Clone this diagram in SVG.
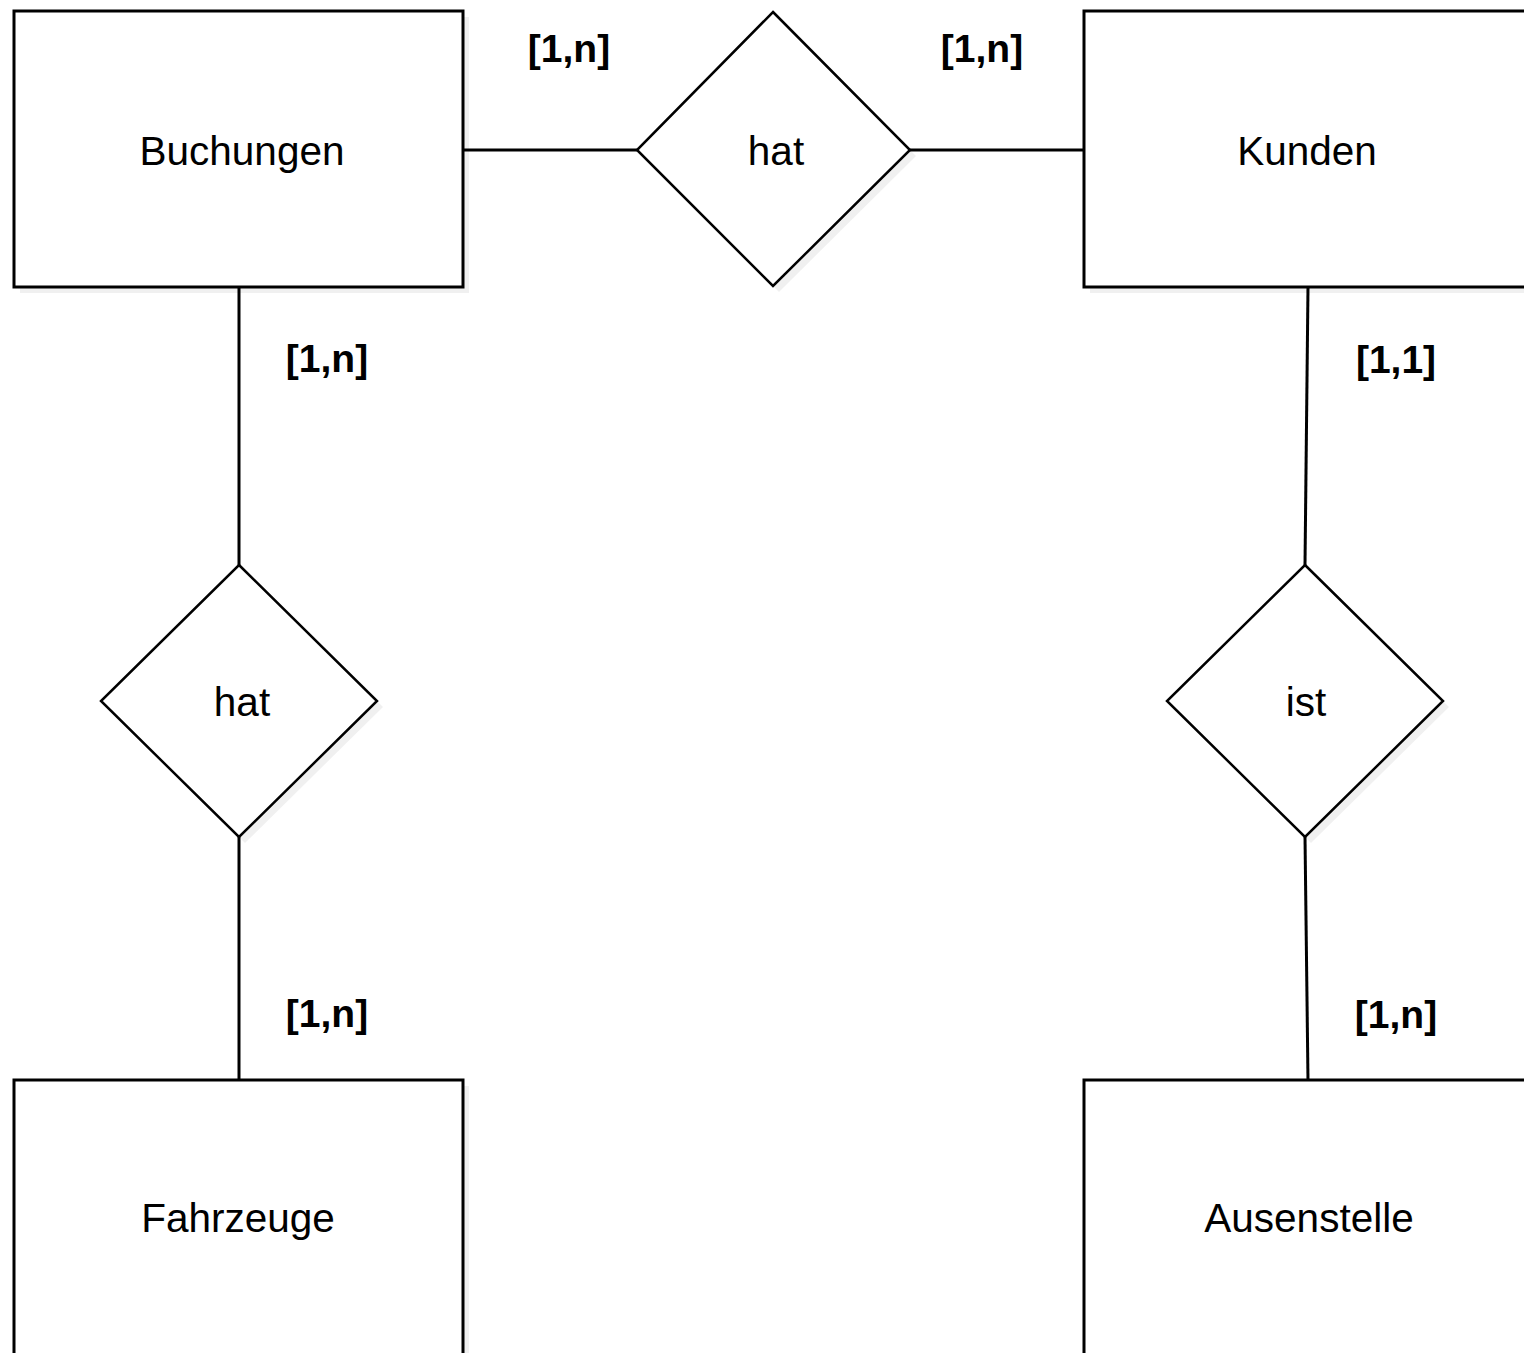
<svg xmlns="http://www.w3.org/2000/svg" width="1524" height="1353" viewBox="0 0 1524 1353">
<style>
.ent{fill:#fff;stroke:#000;stroke-width:3}
.rel{fill:#fff;stroke:#000;stroke-width:2.5}
.shadow{fill:#000;opacity:0.06}
.con{stroke:#000;stroke-width:3;fill:none}
.t{font-family:"Liberation Sans",Arial,sans-serif;font-size:40.5px;fill:#000;text-anchor:middle}
.c{font-family:"Liberation Sans",Arial,sans-serif;font-size:39px;font-weight:bold;fill:#000;text-anchor:middle}
</style>
<rect width="1524" height="1353" fill="#fff"/>
<g id="connectors">
<line class="con" x1="463" y1="150" x2="637" y2="150"/>
<line class="con" x1="910" y1="150" x2="1084" y2="150"/>
<line class="con" x1="239" y1="287" x2="239" y2="565"/>
<line class="con" x1="239" y1="837" x2="239" y2="1080"/>
<line class="con" x1="1308" y1="287" x2="1305" y2="565"/>
<line class="con" x1="1305" y1="837" x2="1308" y2="1080"/>
</g>
<g id="Buchungen">
<rect class="shadow" x="20" y="17" width="449" height="276"/>
<rect class="ent" x="14" y="11" width="449" height="276"/>
<text class="t" x="242" y="165">Buchungen</text>
</g>
<g id="Kunden">
<rect class="shadow" x="1090" y="17" width="460" height="276"/>
<rect class="ent" x="1084" y="11" width="460" height="276"/>
<text class="t" x="1307" y="165">Kunden</text>
</g>
<g id="Fahrzeuge">
<rect class="shadow" x="20" y="1086" width="449" height="300"/>
<rect class="ent" x="14" y="1080" width="449" height="300"/>
<text class="t" x="238" y="1232">Fahrzeuge</text>
</g>
<g id="Ausenstelle">
<rect class="shadow" x="1090" y="1086" width="460" height="300"/>
<rect class="ent" x="1084" y="1080" width="460" height="300"/>
<text class="t" x="1309" y="1232">Ausenstelle</text>
</g>
<g id="hat_top">
<polygon class="shadow" points="779,18 916,156 779,292 643,156"/>
<polygon class="rel" points="773,12 910,150 773,286 637,150"/>
<text class="t" x="776" y="165">hat</text>
</g>
<g id="hat_left">
<polygon class="shadow" points="245,571 383,707 245,843 107,707"/>
<polygon class="rel" points="239,565 377,701 239,837 101,701"/>
<text class="t" x="242" y="716">hat</text>
</g>
<g id="ist">
<polygon class="shadow" points="1311,571 1449,707 1311,843 1173,707"/>
<polygon class="rel" points="1305,565 1443,701 1305,837 1167,701"/>
<text class="t" x="1306" y="716">ist</text>
</g>
<g id="labels">
<text class="c" x="569" y="62">[1,n]</text>
<text class="c" x="982" y="62">[1,n]</text>
<text class="c" x="327" y="372">[1,n]</text>
<text class="c" x="1396" y="373">[1,1]</text>
<text class="c" x="327" y="1027">[1,n]</text>
<text class="c" x="1396" y="1028">[1,n]</text>
</g>
</svg>
